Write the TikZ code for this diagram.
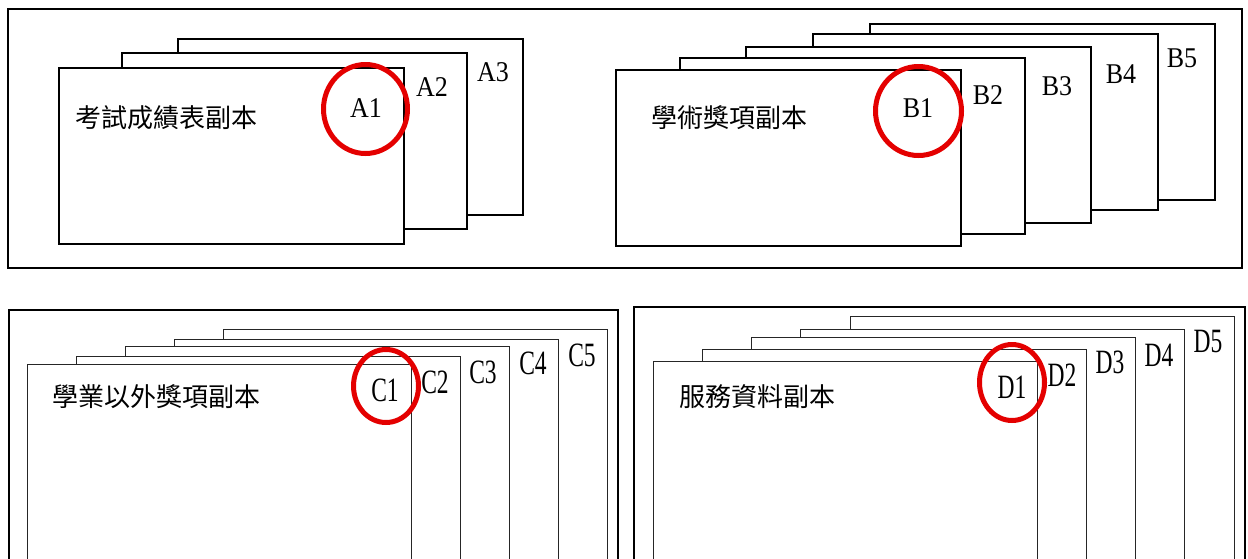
\documentclass[tikz,border=0pt]{standalone}
\usepackage{fontspec}
\setmainfont{Liberation Serif}
\newfontfamily\cjk{Noto Sans CJK TC}
\usetikzlibrary{shapes.geometric}
\definecolor{ringred}{RGB}{228,0,0}
\tikzset{
  frame/.style={draw=black, line width=2pt, fill=white},
  cardtop/.style={draw=black, line width=2pt, fill=white, anchor=north west, inner sep=0pt, minimum width=345pt, minimum height=176pt},
  cardbot/.style={draw=black!85, line width=1.1pt, fill=white, anchor=north west, inner sep=0pt, minimum width=384pt, minimum height=300pt},
  ring/.style={draw=ringred, line width=5pt, ellipse, inner sep=0pt},
  lbltop/.style={inner sep=0pt, font=\fontsize{26pt}{30pt}\selectfont},
  lblbot/.style={inner sep=0pt, font=\fontsize{23.5pt}{28pt}\selectfont},
  title/.style={inner sep=0pt, anchor=west, font=\cjk\fontsize{26pt}{30pt}\selectfont},
}
\newcommand{\tallit}[1]{\scalebox{1}[1.45]{#1}}
\begin{document}
\begin{tikzpicture}[x=1pt,y=-1pt]
\useasboundingbox (0,0) rectangle (1248,558);
\clip (0,0) rectangle (1248,558);
\fill[white] (0,0) rectangle (1248,558);
% ---------- top panel ----------
\node[frame, anchor=north west, inner sep=0pt, minimum width=1234pt, minimum height=259pt] (frameTop) at (7,8) {};
% A stack
\node[cardtop] (A3) at (177,38) {};
\node[cardtop] (A2) at (121,52) {};
\node[cardtop] (A1) at (58,67) {};
\node[title] (tA) at (75,118) {考試成績表副本};
\node[lbltop] (lA1) at (366,108) {\scalebox{1}[1.1]{A1}};
\node[lbltop] (lA2) at (432,87) {\scalebox{1}[1.1]{A2}};
\node[lbltop] (lA3) at (493,72) {\scalebox{1}[1.1]{A3}};
\node[ring, minimum width=84pt, minimum height=89pt] (rA) at (365.5,109) {};
% B stack
\node[cardtop] (B5) at (869,23) {};
\node[cardtop] (B4) at (812,33) {};
\node[cardtop] (B3) at (745,46) {};
\node[cardtop] (B2) at (679,57) {};
\node[cardtop] (B1) at (615,69) {};
\node[title] (tB) at (651,118) {學術獎項副本};
\node[lbltop] (lB1) at (918,108) {\scalebox{1}[1.1]{B1}};
\node[lbltop] (lB2) at (988,95) {\scalebox{1}[1.1]{B2}};
\node[lbltop] (lB3) at (1057,86) {\scalebox{1}[1.1]{B3}};
\node[lbltop] (lB4) at (1121,74) {\scalebox{1}[1.1]{B4}};
\node[lbltop] (lB5) at (1182,58) {\scalebox{1}[1.1]{B5}};
\node[ring, minimum width=86pt, minimum height=89pt] (rB) at (918.5,111) {};
% ---------- bottom left panel ----------
\node[frame, anchor=north west, inner sep=0pt, minimum width=609pt, minimum height=300pt] (frameC) at (8,309) {};
\node[cardbot] (C5) at (223,329) {};
\node[cardbot] (C4) at (174,339) {};
\node[cardbot] (C3) at (125,346) {};
\node[cardbot] (C2) at (76,356) {};
\node[cardbot] (C1) at (27,364) {};
\node[title] (tC) at (52,397) {學業以外獎項副本};
\node[lblbot] (lC1) at (385,390) {\tallit{C1}};
\node[lblbot] (lC2) at (435,382) {\tallit{C2}};
\node[lblbot] (lC3) at (483,372) {\tallit{C3}};
\node[lblbot] (lC4) at (533,363) {\tallit{C4}};
\node[lblbot] (lC5) at (582,355) {\tallit{C5}};
\node[ring, minimum width=65pt, minimum height=73pt] (rC) at (386,386) {};
% ---------- bottom right panel ----------
\node[frame, anchor=north west, inner sep=0pt, minimum width=611pt, minimum height=300pt] (frameD) at (633,306) {};
\node[cardbot] (D5) at (850,316) {};
\node[cardbot] (D4) at (800,329) {};
\node[cardbot] (D3) at (751,337) {};
\node[cardbot] (D2) at (702,349) {};
\node[cardbot] (D1) at (653,361) {};
\node[title] (tD) at (679,397) {服務資料副本};
\node[lblbot] (lD1) at (1012,387) {\tallit{D1}};
\node[lblbot] (lD2) at (1062,375) {\tallit{D2}};
\node[lblbot] (lD3) at (1110,362) {\tallit{D3}};
\node[lblbot] (lD4) at (1159,355) {\tallit{D4}};
\node[lblbot] (lD5) at (1208,342) {\tallit{D5}};
\node[ring, minimum width=65pt, minimum height=76pt] (rD) at (1012,382.5) {};
\end{tikzpicture}
\end{document}
